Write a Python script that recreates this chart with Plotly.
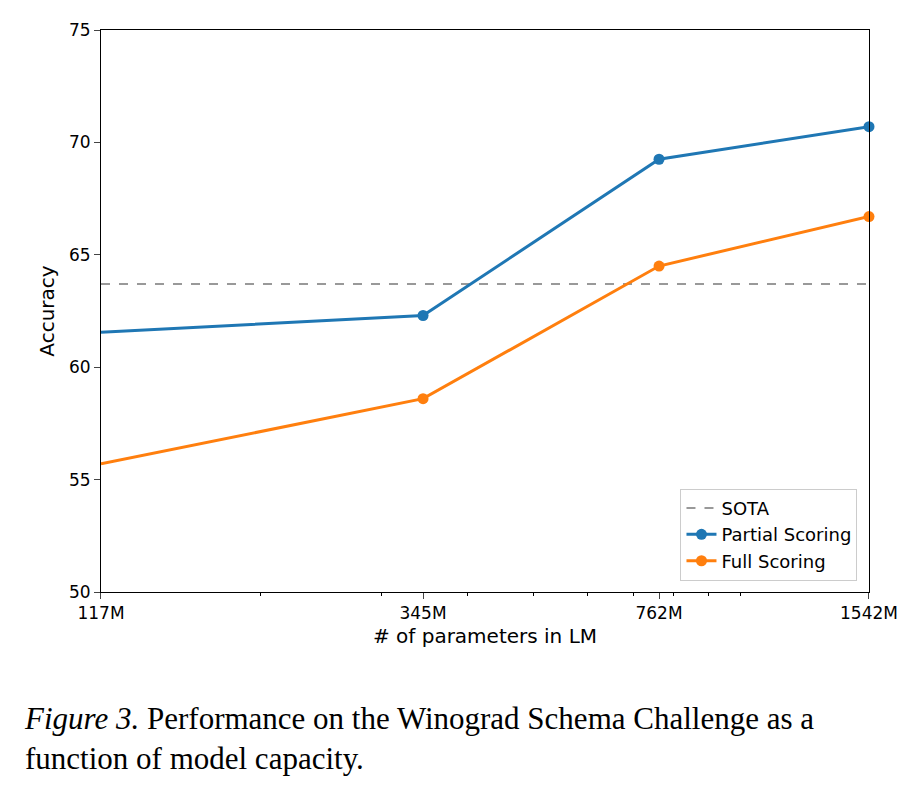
import plotly.graph_objects as go

params = [117, 345, 762, 1542]
tick_labels = ["117M", "345M", "762M", "1542M"]
partial = [61.55, 62.3, 69.25, 70.7]
full = [55.7, 58.6, 64.5, 66.7]
sota = 63.7

fig = go.Figure()
fig.add_trace(go.Scatter(x=[params[0], params[-1]], y=[sota, sota], mode="lines",
                         line=dict(color="#999999", dash="dash", width=2), name="SOTA"))
fig.add_trace(go.Scatter(x=params, y=partial, mode="lines+markers",
                         line=dict(color="#1f77b4", width=3), marker=dict(size=11),
                         name="Partial Scoring", cliponaxis=False))
fig.add_trace(go.Scatter(x=params, y=full, mode="lines+markers",
                         line=dict(color="#ff7f0e", width=3), marker=dict(size=11),
                         name="Full Scoring", cliponaxis=False))

fig.update_layout(
    width=915, height=792, paper_bgcolor="white", plot_bgcolor="white",
    margin=dict(l=93, r=54, t=22, b=208),
    font=dict(family="DejaVu Sans", size=17, color="black"),
    xaxis=dict(type="log", range=[2.0682, 3.1881], tickvals=params, ticktext=tick_labels,
               ticks="outside", ticklen=6, showgrid=False, zeroline=False, automargin=False,
               showline=True, linecolor="black", mirror=True,
               minor=dict(tickvals=[200, 300, 400, 500, 600, 700, 800, 900, 1000],
                          ticks="outside", ticklen=3, tickcolor="black", showgrid=False),
               title=dict(text="# of parameters in LM", standoff=6)),
    yaxis=dict(range=[50, 75], dtick=5, ticks="outside", ticklen=6, showgrid=False,
               zeroline=False, showline=True, linecolor="black", mirror=True, automargin=False,
               title=dict(text="Accuracy", standoff=8)),
    legend=dict(x=0.985, y=0.02, xanchor="right", yanchor="bottom",
                bordercolor="#cccccc", borderwidth=1, bgcolor="white",
                font=dict(size=18), tracegroupgap=4),
    showlegend=True,
)
fig.add_annotation(xref="paper", yref="paper", x=-0.103, y=-0.19, xanchor="left", yanchor="top",
                   showarrow=False, align="left",
                   text="<i>Figure 3.</i> Performance on the Winograd Schema Challenge as a<br>function of model capacity.",
                   font=dict(family="Liberation Serif", size=31, color="black"))
fig.write_html("out.html")
